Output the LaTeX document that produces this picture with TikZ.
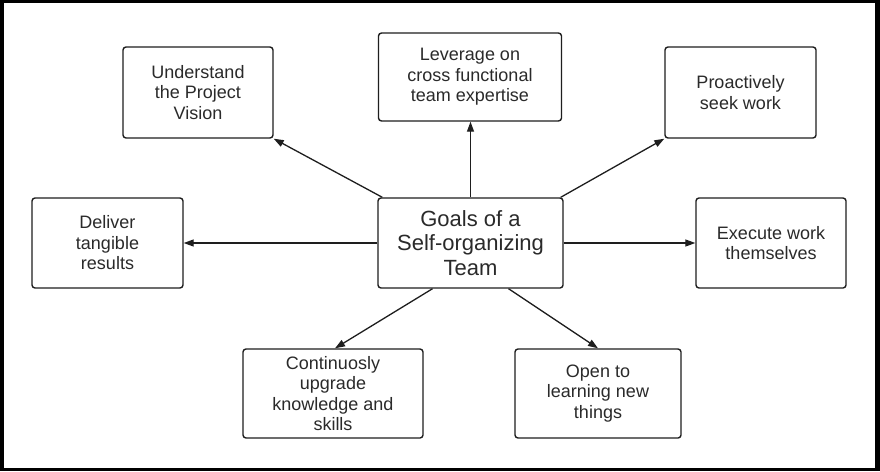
\documentclass[tikz,border=0pt]{standalone}
\usepackage{fontspec}
\setmainfont{Liberation Sans}
\usetikzlibrary{arrows.meta,calc}
\definecolor{ink}{HTML}{1E1E1E}
\definecolor{txt}{HTML}{2A2A2A}
\begin{document}
\begin{tikzpicture}[x=1pt,y=-1pt,
  goal/.style={draw=ink,line width=1.4pt,rounded corners=3pt,align=center,
    inner sep=0pt,text=txt,font=\fontsize{18}{20.5}\selectfont},
  hub/.style={goal,font=\fontsize{22}{24.5}\selectfont},
  link/.style={draw=ink,line width=1.3pt,-{Triangle[length=10pt,width=7pt]}}]
\fill[black] (0,0) rectangle (880,471);
\fill[white] (4,2.5) rectangle (875,468);
\useasboundingbox (0,0) rectangle (880,471);
\node[hub,minimum width=185pt,minimum height=90pt] (c) at (470.5,243) {Goals of a\\Self-organizing\\Team};
\node[goal,minimum width=150pt,minimum height=91pt] (u) at (198,92.5) {Understand\\the Project\\Vision};
\node[goal,minimum width=183pt,minimum height=88pt] (l) at (470,77) {Leverage on\\cross functional\\team expertise};
\node[goal,minimum width=151pt,minimum height=91pt] (p) at (740.5,92.5) {Proactively\\seek work};
\node[goal,minimum width=151pt,minimum height=90pt] (d) at (107.5,243) {Deliver\\tangible\\results};
\node[goal,minimum width=150pt,minimum height=90pt] (e) at (771,243) {Execute work\\themselves};
\node[goal,minimum width=180pt,minimum height=89pt] (k) at (333,393.5) {Continuosly\\upgrade\\knowledge and\\skills};
\node[goal,minimum width=166pt,minimum height=89pt] (o) at (598,393.5) {Open to\\learning new\\things};
\draw[link] ([xshift=5pt]c.north west) -- (u.south east);
\draw[link] (c.north) -- (c.north |- l.south);
\draw[link] ([xshift=-3pt]c.north east) -- (p.south west);
\draw[link] (c.west) -- (d.east);
\draw[link] (c.east) -- (e.west);
\draw[link] ([xshift=-38pt]c.south) -- ([xshift=2pt]k.north);
\draw[link] ([xshift=38pt]c.south) -- (o.north);
\end{tikzpicture}
\end{document}
